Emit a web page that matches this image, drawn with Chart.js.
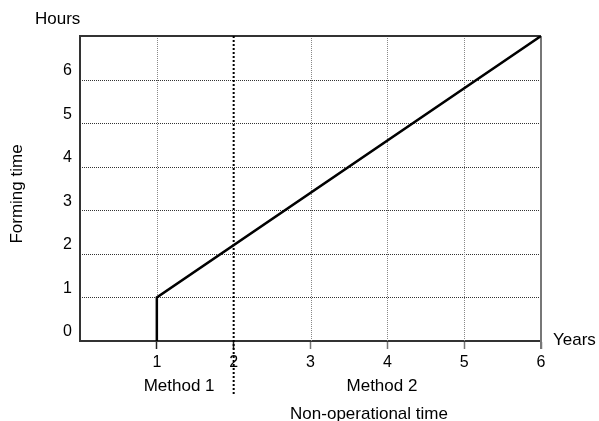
<!DOCTYPE html>
<html>
<head>
<meta charset="utf-8">
<script src="https://cdn.jsdelivr.net/npm/chart.js@4"></script>
<style>
  html, body { margin: 0; padding: 0; background: #fff; }
  #wrap { width: 599px; height: 421px; position: relative; }
</style>
</head>
<body>
<div id="wrap"><canvas id="c"></canvas></div>
<script>
// forming time vs years
const yearsX = [1, 1, 6];
const hoursY = [0, 1, 7];
const xTickValues = [1, 2, 3, 4, 5, 6];
const yTickValues = [0, 1, 2, 3, 4, 5, 6];
const methodLabels = ['Method 1', 'Method 2'];

const FONT = "'Liberation Sans', Arial, sans-serif";

// dotted grid, frame, divider at year 2 and the free text
const overlay = {
  id: 'overlay',
  beforeDatasetsDraw(chart) {
    const { ctx, chartArea: a, scales: { x, y } } = chart;
    ctx.save();
    ctx.lineWidth = 1;
    ctx.setLineDash([1, 1]);
    // horizontal dotted lines
    ctx.strokeStyle = '#333';
    yTickValues.slice(1).forEach(v => {
      const py = Math.round(y.getPixelForValue(v)) + 0.5;
      ctx.beginPath(); ctx.moveTo(a.left, py); ctx.lineTo(a.right, py); ctx.stroke();
    });
    // vertical dotted lines
    ctx.strokeStyle = '#888';
    [1, 3, 4, 5].forEach(v => {
      const px = Math.round(x.getPixelForValue(v)) + 0.5;
      ctx.beginPath(); ctx.moveTo(px, a.top); ctx.lineTo(px, a.bottom); ctx.stroke();
    });
    ctx.setLineDash([]);
    // frame top and right
    ctx.strokeStyle = '#333';
    ctx.lineWidth = 2;
    ctx.beginPath(); ctx.moveTo(a.left, a.top); ctx.lineTo(a.right, a.top); ctx.stroke();
    ctx.strokeStyle = '#777';
    ctx.beginPath(); ctx.moveTo(a.right, a.top); ctx.lineTo(a.right, a.bottom + 8); ctx.stroke();
    ctx.restore();
  },
  afterDraw(chart) {
    const { ctx, chartArea: a, scales: { x } } = chart;
    ctx.save();
    // divider between methods
    const px = x.getPixelForValue(2);
    ctx.strokeStyle = '#000';
    ctx.lineWidth = 2;
    ctx.setLineDash([2, 2]);
    ctx.beginPath(); ctx.moveTo(px, a.top); ctx.lineTo(px, 395); ctx.stroke();
    ctx.setLineDash([]);

    ctx.fillStyle = '#000';
    ctx.font = '17px ' + FONT;
    ctx.textBaseline = 'alphabetic';
    ctx.textAlign = 'left';
    ctx.fillText('Hours', 35, 24);
    ctx.fillText('Years', 553, 345);
    ctx.textAlign = 'center';
    ctx.fillText(methodLabels[0], x.getPixelForValue(1.29), 391);
    ctx.fillText(methodLabels[1], x.getPixelForValue(3.93), 391);
    ctx.fillText('Non-operational time', 369, 419);
    ctx.translate(17, 194);
    ctx.rotate(-Math.PI / 2);
    ctx.textBaseline = 'middle';
    ctx.fillText('Forming time', 0, 0);
    ctx.restore();
  }
};

new Chart(document.getElementById('c'), {
  type: 'line',
  data: {
    datasets: [{
      data: yearsX.map((v, i) => ({ x: v, y: hoursY[i] })),
      borderColor: '#000',
      borderWidth: 2.5,
      pointRadius: 0,
      tension: 0,
      fill: false
    }]
  },
  options: {
    responsive: true,
    maintainAspectRatio: false,
    animation: false,
    layout: { padding: { top: 36, right: 58, left: 0, bottom: 0 } },
    plugins: { legend: { display: false }, tooltip: { enabled: false } },
    scales: {
      x: {
        type: 'linear',
        min: 0, max: 6,
        afterFit: s => { s.height = 80; },
        afterBuildTicks: s => { s.ticks = xTickValues.map(v => ({ value: v })); },
        ticks: {
          color: '#000',
          font: { family: FONT, size: 16 },
          padding: 4,
          maxRotation: 0
        },
        grid: {
          drawOnChartArea: false,
          drawTicks: true,
          tickLength: 8,
          tickWidth: 1.5,
          tickColor: c => (c.tick && c.tick.value <= 2 ? '#222' : '#777')
        },
        border: { color: '#333', width: 2 }
      },
      y: {
        min: 0, max: 7,
        afterFit: s => { s.width = 80; },
        afterBuildTicks: s => { s.ticks = yTickValues.map(v => ({ value: v })); },
        ticks: {
          color: '#000',
          font: { family: FONT, size: 16 },
          padding: 8,
          labelOffset: -9
        },
        grid: { drawOnChartArea: false, drawTicks: false },
        border: { color: '#333', width: 2 }
      }
    }
  },
  plugins: [overlay]
});
</script>
</body>
</html>
